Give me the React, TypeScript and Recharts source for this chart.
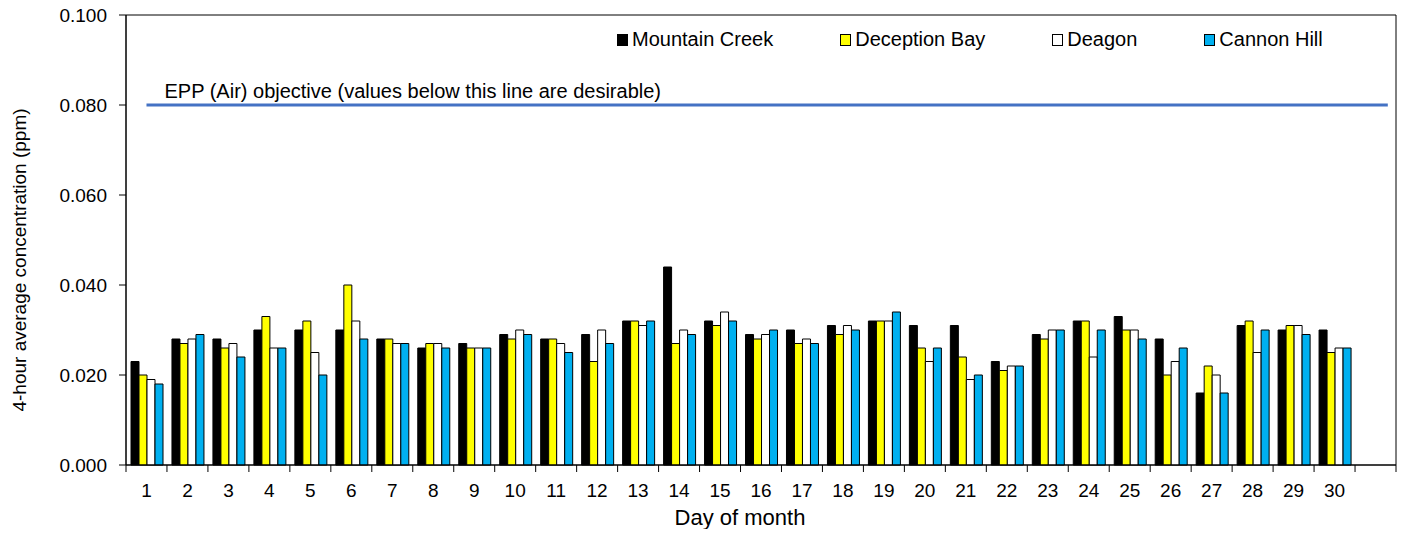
import { BarChart, Bar, XAxis, YAxis, ReferenceLine, ReferenceArea, Legend } from "recharts";

const days = [
  "1", "2", "3", "4", "5", "6", "7", "8", "9", "10",
  "11", "12", "13", "14", "15", "16", "17", "18", "19", "20",
  "21", "22", "23", "24", "25", "26", "27", "28", "29", "30", "",
];

const mountainCreek = [
  0.023, 0.028, 0.028, 0.030, 0.030, 0.030, 0.028, 0.026, 0.027, 0.029,
  0.028, 0.029, 0.032, 0.044, 0.032, 0.029, 0.030, 0.031, 0.032, 0.031,
  0.031, 0.023, 0.029, 0.032, 0.033, 0.028, 0.016, 0.031, 0.030, 0.030,
];
const deceptionBay = [
  0.020, 0.027, 0.026, 0.033, 0.032, 0.040, 0.028, 0.027, 0.026, 0.028,
  0.028, 0.023, 0.032, 0.027, 0.031, 0.028, 0.027, 0.029, 0.032, 0.026,
  0.024, 0.021, 0.028, 0.032, 0.030, 0.020, 0.022, 0.032, 0.031, 0.025,
];
const deagon = [
  0.019, 0.028, 0.027, 0.026, 0.025, 0.032, 0.027, 0.027, 0.026, 0.030,
  0.027, 0.030, 0.031, 0.030, 0.034, 0.029, 0.028, 0.031, 0.032, 0.023,
  0.019, 0.022, 0.030, 0.024, 0.030, 0.023, 0.020, 0.025, 0.031, 0.026,
];
const cannonHill = [
  0.018, 0.029, 0.024, 0.026, 0.020, 0.028, 0.027, 0.026, 0.026, 0.029,
  0.025, 0.027, 0.032, 0.029, 0.032, 0.030, 0.027, 0.030, 0.034, 0.026,
  0.020, 0.022, 0.030, 0.030, 0.028, 0.026, 0.016, 0.030, 0.029, 0.026,
];

const yTicks = [0, 0.02, 0.04, 0.06, 0.08, 0.1];
const objective = 0.08;
const objectiveText = "EPP (Air) objective (values below this line are desirable)";

const series = [
  { key: "mc", name: "Mountain Creek", color: "#000000" },
  { key: "db", name: "Deception Bay", color: "#FFFF00" },
  { key: "dg", name: "Deagon", color: "#FFFFFF" },
  { key: "ch", name: "Cannon Hill", color: "#00B0F0" },
];

const data = days.map((day, i) => ({
  day,
  mc: mountainCreek[i],
  db: deceptionBay[i],
  dg: deagon[i],
  ch: cannonHill[i],
}));

const FONT = "'Liberation Sans', Arial, sans-serif";
const FS = 19;
const FS_BIG = 20;
const W = 1416;
const H = 537;
const M_LEFT = 8;
const M_TOP = 15;
const M_RIGHT = 20;
const Y_W = 118;
const X_H = 72;
const BAND = (W - M_LEFT - Y_W - M_RIGHT) / days.length;

const DayTick = (props: any) => {
  const { x, y, payload, index } = props;
  const half = BAND / 2;
  return (
    <g>
      <line x1={x - half} x2={x - half} y1={y} y2={y + 7} stroke="#000" />
      {index === days.length - 1 && (
        <line x1={x + half} x2={x + half} y1={y} y2={y + 7} stroke="#000" />
      )}
      <text x={x} y={y + 32} textAnchor="middle" fontFamily={FONT} fontSize={FS} fill="#000">
        {payload.value}
      </text>
    </g>
  );
};

const LegendBox = () => (
  <div style={{ display: "flex", alignItems: "center", fontFamily: FONT, fontSize: FS_BIG, color: "#000" }}>
    {series.map((s) => (
      <div key={s.key} style={{ display: "flex", alignItems: "center", marginRight: 67 }}>
        <span
          style={{
            display: "inline-block",
            width: 9,
            height: 10,
            background: s.color,
            border: "1px solid #000",
            marginRight: 4,
          }}
        />
        <span>{s.name}</span>
      </div>
    ))}
  </div>
);

// objective line runs a bit past the last band centre, as in the original
const ObjectiveLine = (p: any) => (
  <line x1={p.x1} y1={p.y1} x2={p.x2 + BAND * 0.3} y2={p.y2} stroke="#4472C4" strokeWidth={3} />
);

export default function App() {
  return (
    <div style={{ width: W, height: H, margin: -8 }}>
      <BarChart
        width={W}
        height={H}
        data={data}
        margin={{ top: M_TOP, right: M_RIGHT, left: M_LEFT, bottom: 0 }}
        barCategoryGap={5}
        barGap={0}
      >
        <XAxis
          dataKey="day"
          height={X_H}
          interval={0}
          tickLine={false}
          tickSize={0}
          tickMargin={0}
          axisLine={{ stroke: "#000" }}
          tick={<DayTick />}
          label={{
            content: (p: any) => {
              const vb = p.viewBox;
              return (
                <text
                  x={vb.x + vb.width / 2 - 21}
                  y={vb.y + 60}
                  textAnchor="middle"
                  fontFamily={FONT}
                  fontSize={22}
                  fill="#000"
                >
                  Day of month
                </text>
              );
            },
          }}
        />
        <YAxis
          width={Y_W}
          domain={[0, 0.1]}
          ticks={yTicks}
          interval={0}
          tickFormatter={(v: number) => v.toFixed(3)}
          tickSize={7}
          tickMargin={12}
          axisLine={{ stroke: "#000" }}
          tickLine={{ stroke: "#000" }}
          tick={{ fontFamily: FONT, fontSize: FS, fill: "#000" }}
          label={{
            content: (p: any) => {
              const vb = p.viewBox;
              const cx = vb.x + 11;
              const cy = vb.y + vb.height / 2 + 20;
              return (
                <text
                  x={cx}
                  y={cy}
                  transform={`rotate(-90 ${cx} ${cy})`}
                  textAnchor="middle"
                  dominantBaseline="central"
                  fontFamily={FONT}
                  fontSize={FS}
                  fill="#000"
                >
                  4-hour average concentration (ppm)
                </text>
              );
            },
          }}
        />
        <ReferenceArea y1={0} y2={0.1} fill="none" stroke="#000" strokeWidth={1} ifOverflow="visible" />
        <Legend
          layout="horizontal"
          verticalAlign="middle"
          align="center"
          wrapperStyle={{ top: 28, left: 617, width: "auto" }}
          content={<LegendBox />}
        />
        {series.map((s) => (
          <Bar
            key={s.key}
            dataKey={s.key}
            name={s.name}
            fill={s.color}
            stroke="#000"
            strokeWidth={1}
            isAnimationActive={false}
          />
        ))}
        <ReferenceLine
          segment={[
            { x: days[0], y: objective },
            { x: days[days.length - 1], y: objective },
          ]}
          shape={<ObjectiveLine />}
          label={{
            value: objectiveText,
            position: "insideBottomLeft",
            offset: 7,
            dx: 11,
            fontFamily: FONT,
            fontSize: FS_BIG,
            fill: "#000",
          }}
        />
      </BarChart>
    </div>
  );
}
